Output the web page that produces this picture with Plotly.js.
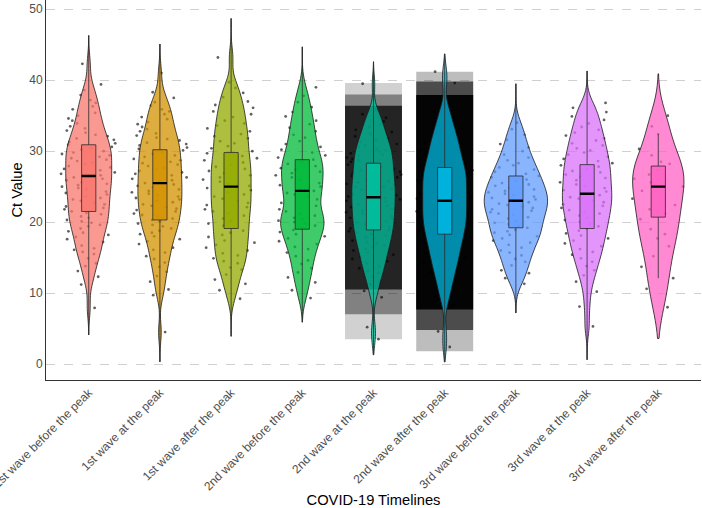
<!DOCTYPE html>
<html><head><meta charset="utf-8">
<script src="https://cdn.plot.ly/plotly-3.0.1.min.js"></script>
<style>html,body{margin:0;padding:0;background:#fff}#chart{width:702px;height:508px}</style>
</head><body><div id="chart"></div>
<script>
// ---- data (Ct values) ----
const categories = [
  "1st wave before the peak", "1st wave at the peak", "1st wave after the peak",
  "2nd wave before the peak", "2nd wave at the peak", "2nd wave after the peak",
  "3rd wave before the peak", "3rd wave at the peak", "3rd wave after the peak"
];

const ct_w1_before = [7.9, 11.2, 12.3, 13.1, 13.8, 14.2, 14.9, 15.5, 15.8, 16.1, 16.3, 16.7, 17.2, 17.6, 17.9, 18.2, 18.5, 18.7, 19.1, 19.4, 19.6, 19.9, 20.1, 20.3, 20.6, 20.8, 21.1, 21.3, 21.5, 21.8, 22.0, 22.2, 22.5, 22.7, 23.0, 23.2, 23.4, 23.6, 23.9, 24.1, 24.3, 24.6, 24.8, 25.0, 25.2, 25.4, 25.6, 25.9, 26.1, 26.3, 26.5, 26.6, 26.8, 27.0, 27.3, 27.5, 27.7, 27.9, 28.2, 28.4, 28.6, 28.8, 29.0, 29.2, 29.4, 29.6, 29.8, 30.0, 30.2, 30.4, 30.6, 30.9, 31.1, 31.3, 31.6, 31.8, 32.1, 32.3, 32.6, 32.9, 33.2, 33.5, 33.9, 34.3, 34.6, 35.0, 35.4, 35.9, 36.3, 36.8, 37.2, 37.9, 38.6, 39.4, 42.3];
const ct_w1_at = [4.5, 9.7, 10.5, 11.6, 12.4, 13.0, 13.7, 14.3, 14.8, 15.2, 15.7, 16.1, 16.4, 16.9, 17.3, 17.6, 18.0, 18.3, 18.5, 18.8, 19.1, 19.4, 19.6, 19.8, 20.1, 20.3, 20.5, 20.8, 21.0, 21.2, 21.5, 21.7, 21.9, 22.1, 22.3, 22.5, 22.8, 23.0, 23.2, 23.4, 23.6, 23.8, 24.0, 24.2, 24.4, 24.6, 24.9, 25.1, 25.3, 25.5, 25.7, 25.9, 26.1, 26.3, 26.6, 26.8, 27.0, 27.2, 27.4, 27.6, 27.9, 28.1, 28.3, 28.5, 28.7, 28.9, 29.2, 29.4, 29.6, 29.8, 30.1, 30.3, 30.5, 30.8, 31.0, 31.2, 31.5, 31.7, 31.9, 32.2, 32.5, 32.8, 33.1, 33.4, 33.8, 34.1, 34.5, 34.8, 35.2, 35.6, 35.9, 36.4, 36.9, 37.5, 38.3, 41.0];
const ct_w1_after = [9.2, 10.4, 11.3, 11.9, 12.6, 13.3, 13.6, 14.2, 14.5, 14.9, 15.3, 15.6, 16.0, 16.4, 16.8, 17.1, 17.4, 17.9, 18.2, 18.5, 18.8, 19.2, 19.5, 19.8, 20.2, 20.5, 20.9, 21.2, 21.5, 21.8, 22.1, 22.4, 22.7, 23.0, 23.3, 23.6, 23.9, 24.2, 24.5, 24.8, 25.1, 25.4, 25.7, 26.0, 26.3, 26.6, 26.9, 27.2, 27.5, 27.8, 28.1, 28.4, 28.7, 29.0, 29.3, 29.7, 30.0, 30.4, 30.7, 31.1, 31.4, 31.8, 32.1, 32.4, 32.8, 33.2, 33.6, 33.9, 34.3, 34.8, 35.2, 35.6, 36.1, 36.5, 37.0, 37.6, 38.2, 38.9, 39.7, 43.2];
const ct_w2_before = [9.3, 10.4, 11.5, 12.2, 12.9, 13.5, 14.1, 14.6, 15.2, 15.7, 16.2, 16.5, 16.9, 17.3, 17.7, 18.0, 18.3, 18.6, 18.9, 19.2, 19.5, 19.8, 20.0, 20.2, 20.4, 20.6, 20.9, 21.2, 21.5, 21.8, 22.3, 22.7, 23.2, 23.6, 23.9, 24.1, 24.4, 24.6, 25.0, 25.2, 25.5, 25.9, 26.3, 26.6, 26.9, 27.1, 27.4, 27.6, 27.9, 28.2, 28.5, 28.8, 29.1, 29.4, 29.8, 30.2, 30.6, 31.0, 31.4, 31.9, 32.3, 32.8, 33.3, 33.8, 34.3, 34.9, 35.5, 36.2, 36.9, 37.8, 39.0];
const ct_w2_at = [3.5, 5.2, 9.4, 10.3, 11.2, 11.6, 12.3, 12.8, 13.1, 13.5, 13.8, 14.2, 14.5, 14.8, 15.1, 15.4, 15.7, 16.0, 16.2, 16.5, 16.7, 17.0, 17.2, 17.4, 17.6, 17.9, 18.1, 18.3, 18.5, 18.7, 18.9, 19.1, 19.3, 19.5, 19.7, 19.9, 20.1, 20.3, 20.4, 20.6, 20.8, 21.0, 21.2, 21.4, 21.6, 21.8, 22.0, 22.1, 22.3, 22.5, 22.7, 22.9, 23.0, 23.2, 23.4, 23.6, 23.8, 24.0, 24.1, 24.3, 24.5, 24.7, 24.9, 25.0, 25.2, 25.4, 25.6, 25.8, 26.0, 26.1, 26.3, 26.5, 26.7, 26.9, 27.1, 27.3, 27.5, 27.7, 27.9, 28.1, 28.3, 28.5, 28.7, 28.9, 29.1, 29.3, 29.5, 29.7, 29.9, 30.1, 30.3, 30.6, 30.8, 31.0, 31.3, 31.5, 31.8, 32.1, 32.4, 32.7, 33.0, 33.4, 33.8, 34.2, 34.7, 35.2, 35.8, 39.5];
const ct_w2_after = [2.4, 4.6, 8.4, 9.5, 10.3, 10.9, 11.5, 12.0, 12.5, 12.9, 13.3, 13.7, 14.0, 14.4, 14.7, 15.0, 15.3, 15.6, 15.9, 16.2, 16.5, 16.7, 17.0, 17.2, 17.5, 17.7, 18.0, 18.2, 18.4, 18.6, 18.9, 19.1, 19.3, 19.5, 19.7, 19.9, 20.1, 20.3, 20.5, 20.7, 20.9, 21.1, 21.3, 21.5, 21.7, 21.9, 22.1, 22.3, 22.5, 22.7, 22.9, 23.1, 23.3, 23.5, 23.7, 23.9, 24.1, 24.3, 24.5, 24.7, 24.9, 25.1, 25.3, 25.5, 25.7, 25.9, 26.1, 26.3, 26.5, 26.7, 26.9, 27.1, 27.3, 27.5, 27.7, 27.9, 28.2, 28.4, 28.6, 28.9, 29.1, 29.4, 29.7, 29.9, 30.2, 30.5, 30.8, 31.1, 31.4, 31.7, 32.1, 32.4, 32.8, 33.2, 33.7, 34.2, 34.8, 35.5, 36.4, 39.6, 41.2];
const ct_w3_before = [11.3, 12.1, 12.8, 13.2, 13.9, 14.4, 14.8, 15.3, 15.7, 16.0, 16.4, 16.8, 17.1, 17.4, 17.7, 18.0, 18.2, 18.5, 18.7, 18.9, 19.2, 19.4, 19.7, 19.9, 20.2, 20.5, 20.7, 21.0, 21.2, 21.4, 21.6, 21.8, 22.0, 22.2, 22.4, 22.6, 22.8, 23.0, 23.2, 23.4, 23.6, 23.8, 24.0, 24.2, 24.4, 24.6, 24.8, 25.1, 25.3, 25.5, 25.8, 26.0, 26.3, 26.5, 26.8, 27.1, 27.4, 27.7, 28.0, 28.3, 28.7, 29.1, 29.5, 30.0, 30.5, 31.0, 31.6, 32.3, 33.1, 34.0];
const ct_w3_at = [5.3, 8.1, 10.2, 11.6, 12.5, 13.2, 13.8, 14.4, 14.9, 15.4, 15.8, 16.2, 16.6, 17.0, 17.4, 17.7, 18.1, 18.4, 18.8, 19.1, 19.4, 19.7, 20.0, 20.3, 20.6, 20.9, 21.2, 21.4, 21.7, 22.0, 22.3, 22.5, 22.8, 23.0, 23.3, 23.5, 23.8, 24.0, 24.3, 24.5, 24.8, 25.1, 25.3, 25.6, 25.9, 26.2, 26.4, 26.7, 27.0, 27.2, 27.5, 27.8, 28.0, 28.3, 28.6, 28.9, 29.2, 29.5, 29.8, 30.1, 30.4, 30.8, 31.1, 31.5, 31.8, 32.2, 32.6, 33.0, 33.4, 33.9, 34.4, 34.9, 35.5, 36.1, 36.8];
const ct_w3_after = [8.0, 10.6, 12.1, 13.7, 15.2, 16.6, 17.7, 18.3, 19.0, 20.4, 21.2, 21.8, 22.4, 23.3, 24.4, 25.0, 25.6, 26.1, 26.7, 27.3, 28.2, 28.5, 29.4, 30.3, 32.4, 33.5, 35.0];

// box-plot statistics (whiskers = full drawn line)
const q1 = [21.5, 20.3, 19.1, 19.0, 18.9, 18.3, 19.2, 19.1, 20.7];
const medians = [26.5, 25.5, 25.0, 24.4, 23.5, 23.0, 23.0, 24.0, 25.0];
const q3 = [30.9, 30.2, 29.8, 28.8, 28.3, 27.7, 26.5, 28.1, 27.9];
const lowerWhisker = [4.1, 0.3, 3.9, 5.9, 1.3, 0.3, 7.2, 0.6, 12.1];
const upperWhisker = [46.3, 45.1, 48.7, 44.7, 42.6, 43.7, 39.5, 41.3, 32.4];

// violin extents (thin tails included)
const violinSpanLow = [4.1, 0.3, 3.9, 5.9, 1.3, 0.3, 7.2, 0.6, 3.6];
const violinSpanHigh = [46.3, 45.1, 48.7, 44.7, 42.6, 43.7, 39.5, 41.3, 40.9];

// extent of the over-plotted point band (2nd wave at / after the peak), three density tiers
const denseCategories = ["2nd wave at the peak", "2nd wave after the peak"];
const bandOuterLow = [3.5, 1.8];
const bandOuterHigh = [39.6, 41.2];
const bandMidLow = [7.0, 4.8];
const bandMidHigh = [38.0, 39.8];
const bandCoreLow = [10.5, 7.7];
const bandCoreHigh = [36.4, 37.9];

// ---- styling ----
const samples = [ct_w1_before, ct_w1_at, ct_w1_after, ct_w2_before, ct_w2_at, ct_w2_after, ct_w3_before, ct_w3_at, ct_w3_after];
const hues = ["#F8766D", "#D39200", "#93AA00", "#00BA38", "#00C19F", "#00B9E3", "#619CFF", "#DB72FB", "#FF61C3"];
const violinWidths = [0.646, 0.618, 0.562, 0.61, 0.61, 0.618, 0.89, 0.694, 0.722];
const bandwidths = [1.4, 1.4, 1.4, 1.5, 1.3, 1.3, 1.4, 1.4, 2.6];

function rgba(hex, a) {
  const n = parseInt(hex.slice(1), 16);
  return `rgba(${(n >> 16) & 255},${(n >> 8) & 255},${n & 255},${a})`;
}

const traces = [];

function band(lo, hi, colors) {
  return {
    type: "bar", x: denseCategories, base: lo,
    y: hi.map((h, i) => h - lo[i]),
    width: 0.8, marker: {color: colors, line: {width: 0}},
    hoverinfo: "skip", showlegend: false
  };
}
traces.push(band(bandOuterLow, bandOuterHigh, ["rgba(0,0,0,0.18)", "rgba(0,0,0,0.26)"]));
traces.push(band(bandMidLow, bandMidHigh, ["rgba(0,0,0,0.38)", "rgba(0,0,0,0.6)"]));
traces.push(band(bandCoreLow, bandCoreHigh, ["rgba(0,0,0,0.72)", "rgba(0,0,0,0.95)"]));

// jittered points
categories.forEach((c, i) => {
  traces.push({
    type: "violin", x: samples[i].map(() => c), y: samples[i],
    points: "all", pointpos: 0, jitter: 1, width: 0.8,
    fillcolor: "rgba(0,0,0,0)", line: {color: "rgba(0,0,0,0)", width: 0},
    marker: {size: 2.8, color: "rgba(0,0,0,0.62)"},
    spanmode: "hard", bandwidth: bandwidths[i],
    hoverinfo: "skip", showlegend: false
  });
});

// violin shapes
categories.forEach((c, i) => {
  traces.push({
    type: "violin", x: samples[i].map(() => c), y: samples[i],
    points: false, width: violinWidths[i], bandwidth: bandwidths[i],
    spanmode: "manual", span: [violinSpanLow[i], violinSpanHigh[i]], scalemode: "width",
    fillcolor: rgba(hues[i], 0.75), line: {color: "#1a1a1a", width: 0.8},
    box: {visible: false}, meanline: {visible: false},
    hoverinfo: "skip", showlegend: false
  });
});

// boxes
categories.forEach((c, i) => {
  traces.push({
    type: "box", x: [c], q1: [q1[i]], median: [medians[i]], q3: [q3[i]],
    lowerfence: [lowerWhisker[i]], upperfence: [upperWhisker[i]],
    width: 0.2, whiskerwidth: 0, boxpoints: false,
    fillcolor: rgba(hues[i], 0.85), line: {color: "#2b2b2b", width: 0.8},
    hoverinfo: "skip", showlegend: false
  });
});
// thick median bars
categories.forEach((c, i) => {
  traces.push({
    type: "box", x: [c], q1: [medians[i]], median: [medians[i]], q3: [medians[i]],
    lowerfence: [medians[i]], upperfence: [medians[i]],
    width: 0.2, whiskerwidth: 0, boxpoints: false,
    fillcolor: "#000", line: {color: "#000", width: 2.4},
    hoverinfo: "skip", showlegend: false
  });
});

const layout = {
  width: 702, height: 508,
  margin: {l: 46, r: 1, t: 0, b: 128},
  paper_bgcolor: "#fff", plot_bgcolor: "#fff",
  font: {family: "Liberation Sans, Arial, sans-serif", color: "#000"},
  showlegend: false,
  violinmode: "overlay", boxmode: "overlay", barmode: "overlay",
  xaxis: {
    type: "category", categoryorder: "array", categoryarray: categories,
    range: [-0.6, 8.6], showgrid: false, zeroline: false,
    showline: true, linecolor: "#333", linewidth: 1, ticks: "",
    tickangle: -45, tickfont: {size: 12, color: "#4D4D4D"},
    title: {text: "COVID-19 Timelines", font: {size: 14.7, color: "#000"}, standoff: 4},
    automargin: false
  },
  yaxis: {
    range: [-2.25, 51.3], tickvals: [0, 10, 20, 30, 40, 50],
    showgrid: true, gridcolor: "#C4C4C4", griddash: "dash", gridwidth: 0.8,
    zeroline: false, showline: true, linecolor: "#333", linewidth: 1, ticks: "",
    tickfont: {size: 12, color: "#4D4D4D"},
    title: {text: "Ct Value", font: {size: 14.7, color: "#000"}, standoff: 3},
    automargin: false
  }
};

Plotly.newPlot("chart", traces, layout, {staticPlot: true});
</script>
</body></html>
